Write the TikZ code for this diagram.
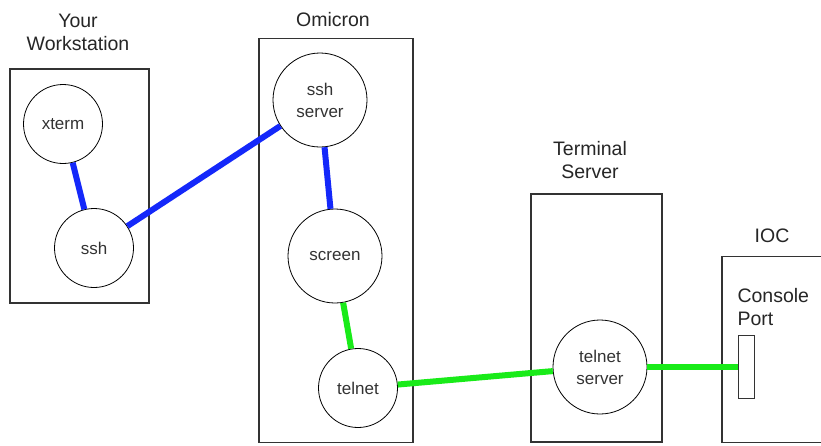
\documentclass[tikz,border=0pt]{standalone}
\usepackage{fontspec}
\setmainfont{Liberation Sans}
\begin{document}
\begin{tikzpicture}[x=1pt,y=-1pt,
  host/.style={draw=black!80,line width=1.2pt,inner sep=0pt},
  proc/.style={draw=black,circle,line width=0.8pt,inner sep=0pt,
    font=\fontsize{17}{22}\selectfont,text=black!80,align=center},
  title/.style={font=\fontsize{19.5}{24}\selectfont,text=black!85,align=center},
  sshlink/.style={draw={rgb,255:red,20;green,40;blue,250},line width=6pt},
  tellink/.style={draw={rgb,255:red,25;green,235;blue,25},line width=6pt}]
\useasboundingbox (0,0) rectangle (821,445);
\fill[white] (0,0) rectangle (821,445);

% hosts
\node[host,minimum width=139pt,minimum height=234pt] (ws) at (79.5,186) {};
\node[host,minimum width=154pt,minimum height=404pt] (om) at (336,240.5) {};
\node[host,minimum width=131pt,minimum height=248pt] (tsbox) at (596.5,318) {};
\node[host,minimum width=120pt,minimum height=186pt] (ioc) at (782,349.5) {};

% host titles
\node[title] (wslabel) at (78,32) {Your\\[-1pt]Workstation};
\node[title] (omlabel) at (333,20) {Omicron};
\node[title] (tslabel) at (590,160) {Terminal\\[-1pt]Server};
\node[title] (ioclabel) at (772,236) {IOC};
\node[title,anchor=west,align=left] (cplabel) at (734,307.5) {Console\\[-1pt]Port};

% processes
\node[proc,minimum size=79pt] (xterm) at (63,124) {xterm};
\node[proc,minimum size=79pt] (ssh) at (94,248) {ssh};
\node[proc,minimum size=94pt] (sshd) at (320,100) {ssh\\server};
\node[proc,minimum size=94pt] (screen) at (335,256) {screen};
\node[proc,minimum size=79pt] (telnet) at (358,388) {telnet};
\node[proc,minimum size=94pt] (telnetd) at (600,367) {telnet\\server};

% console port
\node[draw=black!80,line width=0.8pt,fill=white,minimum width=16pt,minimum height=63pt,inner sep=0pt] (port) at (746,367) {};

% connections
\draw[sshlink] (xterm) -- (ssh);
\draw[sshlink] (ssh) -- (sshd);
\draw[sshlink] (sshd) -- (screen);
\draw[tellink] (screen) -- (telnet);
\draw[tellink] (telnet) -- (telnetd);
\draw[tellink] (telnetd) -- (port);
\end{tikzpicture}
\end{document}
